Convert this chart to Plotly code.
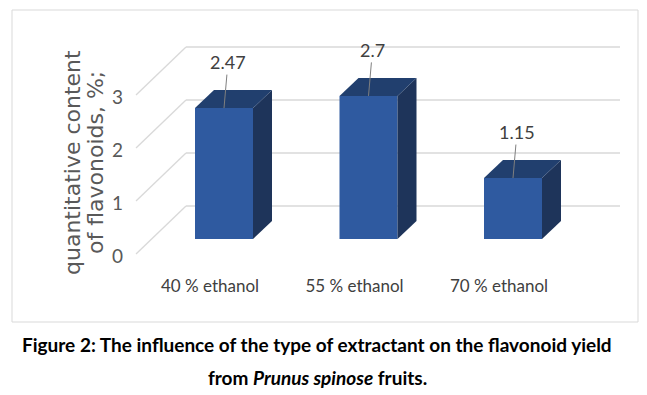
import plotly.graph_objects as go

# ---- data ----
categories = ["40 % ethanol", "55 % ethanol", "70 % ethanol"]
values = [2.47, 2.7, 1.15]
value_labels = ["2.47", "2.7", "1.15"]
y_ticks = [0, 1, 2, 3]
y_title_lines = ["quantitative content", "of flavonoids, %;"]
caption_1 = "<b>Figure 2: The influence of the type of extractant on the flavonoid yield</b>"
caption_2 = "<b>from <i>Prunus spinose</i> fruits.</b>"

# ---- layout geometry (pixels) ----
W, H = 647, 395
L, R, T, B = 132, 630, 30, 274          # plot area edges
X0PX, PXX = 224, 144.5                  # pixel of x=0, px per category
Y0PX, PXY = 239, 53                     # pixel of value 0 (front), px per unit
BAR_W = 58 / PXX
DX, DY = 19 / PXX, 18 / PXY             # bar depth
BACK_DY = (Y0PX - 206) / PXY            # back wall offset
BACK_X0, BACK_X1 = (186 - X0PX) / PXX, (620 - X0PX) / PXX
FRONT_X = (136 - X0PX) / PXX
FRONT_DY = (Y0PX - 254) / PXY
LABEL_DY = (256 - Y0PX) / PXY
CAT_SHIFT = -14 / PXX

xr = [(L - X0PX) / PXX, (R - X0PX) / PXX]
yr = [(Y0PX - B) / PXY, (Y0PX - T) / PXY]

def px2paper_x(px):
    return (px - L) / (R - L)

def px2paper_y(py):
    return (B - py) / (B - T)

FRONT = "#2F5AA0"
TOP = "#213F6E"
SIDE = "#1E345A"
GRID = "#D9D9D9"

fig = go.Figure()

xs = list(range(len(categories)))

# side & top faces
for i, v in zip(xs, values):
    xl, xrt = i - BAR_W / 2, i + BAR_W / 2
    fig.add_trace(go.Scatter(
        x=[xrt, xrt, xrt + DX, xrt + DX, xrt], y=[0, v, v + DY, DY, 0],
        fill="toself", fillcolor=SIDE, mode="lines", line=dict(width=0),
        hoverinfo="skip", showlegend=False))
    fig.add_trace(go.Scatter(
        x=[xl, xrt, xrt + DX, xl + DX, xl], y=[v, v, v + DY, v + DY, v],
        fill="toself", fillcolor=TOP, mode="lines", line=dict(width=0),
        hoverinfo="skip", showlegend=False))

# front faces
fig.add_trace(go.Bar(x=xs, y=values, width=BAR_W, marker=dict(color=FRONT, line=dict(width=0)),
                     showlegend=False, hoverinfo="skip"))

# invisible trace for tick-label axis
fig.add_trace(go.Scatter(x=[xs[0]], y=[0], yaxis="y2", mode="markers",
                         marker=dict(opacity=0), hoverinfo="skip", showlegend=False))

shapes = []
for t in y_ticks:
    shapes.append(dict(type="line", xref="x", yref="y", layer="below",
                       x0=BACK_X0, x1=BACK_X1, y0=t + BACK_DY, y1=t + BACK_DY,
                       line=dict(color=GRID, width=1.3)))
    shapes.append(dict(type="line", xref="x", yref="y", layer="below",
                       x0=BACK_X0, x1=FRONT_X, y0=t + BACK_DY, y1=t + FRONT_DY,
                       line=dict(color=GRID, width=1.3)))
# chart border
shapes.append(dict(type="rect", xref="paper", yref="paper",
                   x0=px2paper_x(12), x1=px2paper_x(638), y0=px2paper_y(322), y1=px2paper_y(10),
                   line=dict(color="#D9D9D9", width=1), layer="below"))

annotations = []
for i, v, lab in zip(xs, values, value_labels):
    annotations.append(dict(x=i, y=v, xref="x", yref="y", text=lab, showarrow=True,
                            arrowhead=0, arrowwidth=1, arrowcolor="#7F7F7F",
                            ax=4, ay=-46, font=dict(family="Lato", size=18, color="#404040")))
for line_txt, xc in zip(y_title_lines, [72, 95]):
    annotations.append(dict(x=px2paper_x(xc), y=px2paper_y(163), xref="paper", yref="paper",
                            text=line_txt, textangle=-90, showarrow=False,
                            xanchor="center", yanchor="middle",
                            font=dict(family="DejaVu Sans", size=22, color="#595959")))
annotations.append(dict(x=px2paper_x(317), y=px2paper_y(344), xref="paper", yref="paper",
                        text=caption_1, showarrow=False, xanchor="center", yanchor="middle",
                        font=dict(family="Lato", size=19, color="#000000")))
annotations.append(dict(x=px2paper_x(317), y=px2paper_y(377), xref="paper", yref="paper",
                        text=caption_2, showarrow=False, xanchor="center", yanchor="middle",
                        font=dict(family="Lato", size=19, color="#000000")))

fig.update_layout(
    width=W, height=H,
    margin=dict(l=L, r=W - R, t=T, b=H - B, pad=0),
    paper_bgcolor="white", plot_bgcolor="white",
    xaxis=dict(range=xr, showgrid=False, zeroline=False, showline=False,
               tickmode="array", tickvals=[i + CAT_SHIFT for i in xs], ticktext=categories,
               ticks="", tickfont=dict(family="Lato", size=17, color="#404040")),
    yaxis=dict(range=yr, showgrid=False, zeroline=False, showline=False, showticklabels=False),
    yaxis2=dict(range=[yr[0] + LABEL_DY, yr[1] + LABEL_DY], overlaying="y", side="left",
                showgrid=False, zeroline=False, showline=False,
                tickmode="array", tickvals=y_ticks, ticks="", ticklabelstandoff=8,
                tickfont=dict(family="Lato", size=19, color="#595959")),
    shapes=shapes, annotations=annotations,
)

fig.write_html("out.html", config={"displayModeBar": False},
               post_script="document.body.style.margin='0px';")
